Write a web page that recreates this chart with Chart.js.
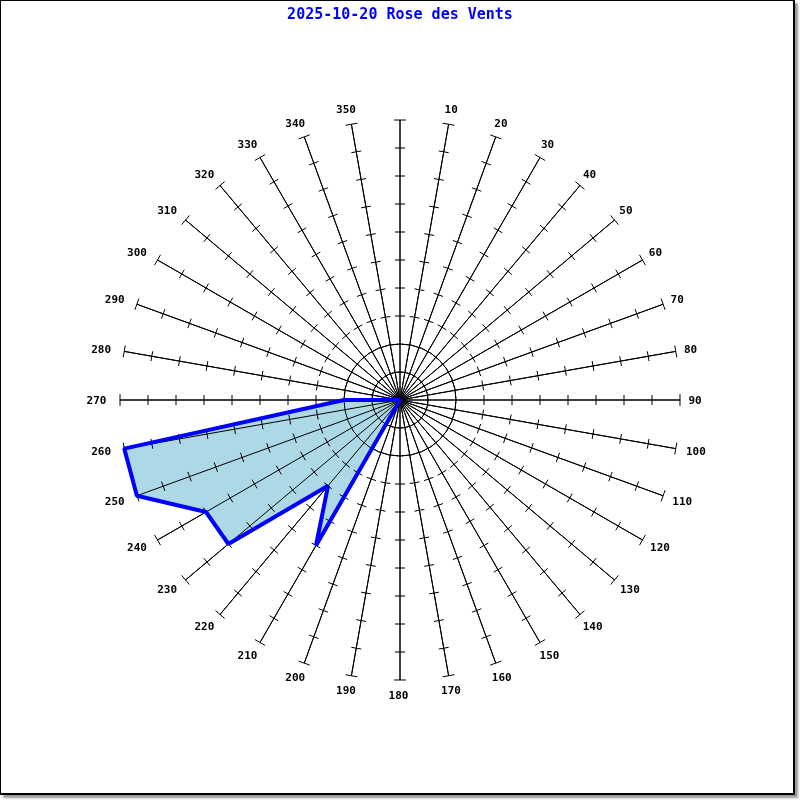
<!DOCTYPE html>
<html>
<head>
<meta charset="utf-8">
<script src="https://cdn.jsdelivr.net/npm/chart.js@4"></script>
<style>
  html, body { margin: 0; padding: 0; background: #fff; }
  #frame { position: absolute; left: 0; top: 0; width: 795px; height: 795px; box-sizing: border-box;
           border-left: 1px solid #000; border-top: 1px solid #000; border-right: 2px solid #000; border-bottom: 2px solid #000;
           box-shadow: 3px 3px 2px #999; background: #fff; }
  #wrap { position: absolute; left: 0; top: 0; width: 800px; height: 800px; }
</style>
</head>
<body>
<div id="frame"></div>
<div id="wrap"><canvas id="c" width="800" height="800"></canvas></div>
<script>
// Directions (degrees) and their labels
const directions = [0, 10, 20, 30, 40, 50, 60, 70, 80, 90, 100, 110, 120, 130, 140, 150, 160, 170,
                    180, 190, 200, 210, 220, 230, 240, 250, 260, 270, 280, 290, 300, 310, 320, 330, 340, 350];
const directionLabels = ['', '10', '20', '30', '40', '50', '60', '70', '80', '90', '100', '110', '120', '130', '140', '150', '160', '170',
                         '180', '190', '200', '210', '220', '230', '240', '250', '260', '270', '280', '290', '300', '310', '320', '330', '340', '350'];
// Wind frequency per direction
const windValues = [0, 0, 0, 0, 0, 0, 0, 0, 0, 0, 0, 0, 0, 0, 0, 0, 0, 0,
                    0, 0, 0, 6, 4, 8, 8, 10, 10, 2, 0, 0, 0, 0, 0, 0, 0, 0];
// Scale
const scaleMin = 0;
const scaleMax = 10;
const ringValues = [1, 2];
const spokeTickValues = [3, 4, 5, 6, 7, 8, 9, 10];
const titleText = '2025-10-20 Rose des Vents';

const spokePlugin = {
  id: 'spokes',
  afterDatasetDraw(chart, args) {
    if (args.index !== 1) return;
    const s = chart.scales.r;
    const ctx = chart.ctx;
    ctx.save();
    ctx.strokeStyle = '#000';
    ctx.lineWidth = 1;
    const n = chart.data.labels.length;
    for (let i = 0; i < n; i++) {
      const end = s.getPointPositionForValue(i, scaleMax);
      ctx.beginPath();
      ctx.moveTo(s.xCenter, s.yCenter);
      ctx.lineTo(end.x, end.y);
      ctx.stroke();
      const a = s.getIndexAngle(i) - Math.PI / 2;
      const px = -Math.sin(a), py = Math.cos(a);
      for (const v of spokeTickValues) {
        const p = s.getPointPositionForValue(i, v);
        const h = v === scaleMax ? 6 : 5;
        ctx.beginPath();
        ctx.moveTo(p.x - h * px, p.y - h * py);
        ctx.lineTo(p.x + h * px, p.y + h * py);
        ctx.stroke();
      }
    }
    for (const v of ringValues) {
      ctx.beginPath();
      ctx.arc(s.xCenter, s.yCenter, s.getDistanceFromCenterForValue(v), 0, Math.PI * 2);
      ctx.stroke();
    }
    ctx.restore();
  },
  afterDraw(chart) {
    const s = chart.scales.r;
    const ctx = chart.ctx;
    ctx.save();
    ctx.font = 'bold 11px "DejaVu Sans Mono"';
    ctx.fillStyle = '#000';
    ctx.textAlign = 'center';
    ctx.textBaseline = 'middle';
    const R = s.getDistanceFromCenterForValue(scaleMax);
    chart.data.labels.forEach((lab, i) => {
      if (!lab) return;
      const a = s.getIndexAngle(i);
      const p = s.getPointPosition(i, R + 15);
      const dx = (lab.length - 2) * (7 * Math.sin(a) - 1.5);
      ctx.fillText(lab, p.x + dx, p.y + 1);
    });
    ctx.restore();
  }
};

new Chart(document.getElementById('c'), {
  type: 'radar',
  data: {
    labels: directionLabels,
    datasets: [
      {
        data: windValues,
        fill: false,
        borderColor: '#0000ff',
        borderWidth: 4,
        borderJoinStyle: 'bevel',
        pointRadius: 0,
        backgroundColor: 'transparent'
      },
      {
        data: windValues,
        fill: 'origin',
        backgroundColor: '#add8e6',
        borderWidth: 0,
        borderColor: 'transparent',
        pointRadius: 0
      }
    ]
  },
  options: {
    responsive: false,
    animation: false,
    devicePixelRatio: 1,
    layout: { padding: { left: 120, right: 120, top: 0, bottom: 120 } },
    plugins: {
      legend: { display: false },
      tooltip: { enabled: false },
      title: {
        display: true,
        text: titleText,
        color: '#0000ff',
        font: { family: '"DejaVu Sans Mono"', size: 15, weight: 'bold', lineHeight: 1.2 },
        padding: { top: 6, bottom: 96 }
      }
    },
    scales: {
      r: {
        min: scaleMin,
        max: scaleMax,
        startAngle: 0,
        ticks: { display: false, stepSize: 1 },
        pointLabels: { display: false },
        angleLines: { display: true, color: '#000', lineWidth: 1 },
        grid: {
          circular: true,
          color: (c) => ringValues.includes(c.tick && c.tick.value) ? '#000' : 'rgba(0,0,0,0)',
          lineWidth: 1
        }
      }
    }
  },
  plugins: [spokePlugin]
});
</script>
</body>
</html>
